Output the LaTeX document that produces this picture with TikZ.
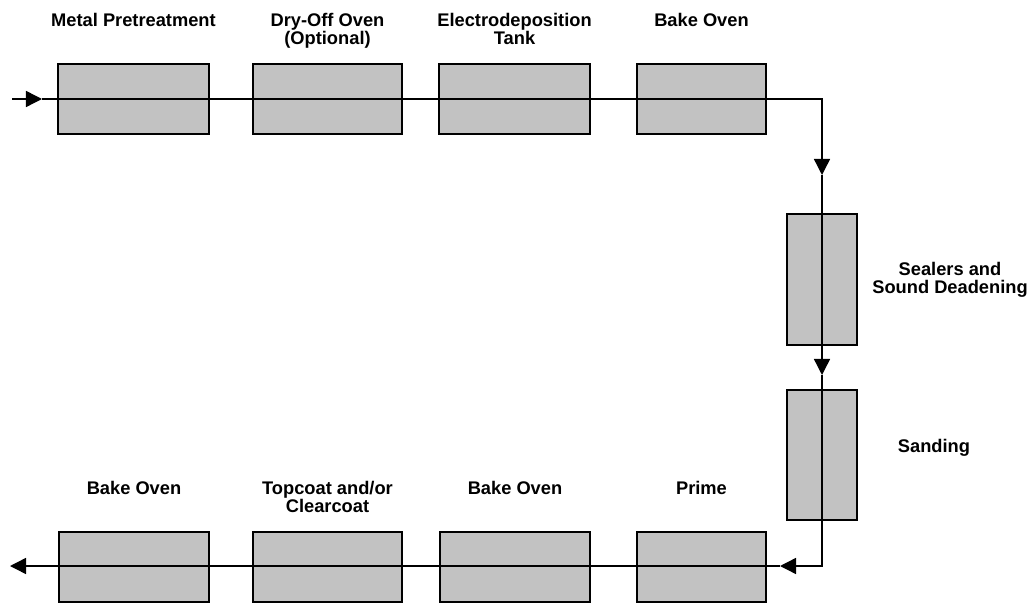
\documentclass[tikz,border=0pt]{standalone}
\usepackage{fontspec}
\setmainfont{Liberation Sans}
\usetikzlibrary{arrows.meta}

\begin{document}
\begin{tikzpicture}[
    x=0.025cm, y=-0.025cm,
    stage box/.style={rectangle, draw=black, line width=1pt, fill=black!24, minimum height=1.75cm, inner sep=0pt},
    wide box/.style={stage box, minimum width=3.775cm},
    short box/.style={stage box, minimum width=3.225cm},
    tall box/.style={stage box, minimum width=1.75cm, minimum height=3.275cm},
    stage label/.style={font=\bfseries\fontsize{13}{12.5}\selectfont, align=center, inner sep=0pt},
    flow/.style={line width=1pt, draw=black},
    flow tip/.style={flow, -{Triangle[length=4mm, width=4mm]}}
]
\useasboundingbox (0,0) rectangle (1031,603);

% upper line of stages
\node[wide box]  (pretreat) at (133.5, 99) {};
\node[wide box, minimum width=3.725cm] (dryoff) at (327.5, 99) {};
\node[wide box]  (edtank)   at (514.5, 99) {};
\node[short box] (bakeA)    at (701.5, 99) {};

% stages on the right side
\node[tall box] (sealer) at (822, 279.5) {};
\node[tall box, minimum height=3.25cm] (sanding) at (822, 455) {};

% lower line of stages
\node[short box] (prime)   at (701.5, 567) {};
\node[wide box, minimum width=3.75cm] (bakeB)   at (515, 567) {};
\node[wide box, minimum width=3.725cm] (topcoat) at (327.5, 567) {};
\node[wide box, minimum width=3.75cm] (bakeC)   at (134, 567) {};

% labels
\node[stage label, anchor=north] (lpretreat) at (133.5, 13) {Metal Pretreatment};
\node[stage label, anchor=north] (ldryoff)   at (327.5, 13) {Dry-Off Oven\\(Optional)};
\node[stage label, anchor=north] (ledtank)   at (514.5, 13) {Electrodeposition\\Tank};
\node[stage label, anchor=north] (lbakeA)    at (701.5, 13) {Bake Oven};
\node[stage label] (lsealer)  at (950, 280) {Sealers and\\Sound Deadening};
\node[stage label] (lsanding) at (934, 448) {Sanding};
\node[stage label, anchor=north] (lprime)   at (701.5, 481) {Prime};
\node[stage label, anchor=north] (lbakeB)   at (515, 481) {Bake Oven};
\node[stage label, anchor=north] (ltopcoat) at (327.5, 481) {Topcoat and/or\\Clearcoat};
\node[stage label, anchor=north] (lbakeC)   at (134, 481) {Bake Oven};

% flow of the body through the line
\coordinate (start)  at (12, 99);
\coordinate (tipIn)  at (42, 99);
\coordinate (turnA)  at (822, 99);
\coordinate (tipA)   at (822, 175);
\coordinate (tipB)   at (822, 375);
\coordinate (turnB)  at (822, 566);
\coordinate (tipC)   at (780, 566);
\coordinate (finish) at (10, 566);

\draw[flow tip] (start) -- (tipIn);
\draw[flow tip] (tipIn) -- (turnA) -- (tipA);
\draw[flow tip] (tipA) -- (tipB);
\draw[flow tip] (tipB) -- (turnB) -- (tipC);
\draw[flow tip] (tipC) -- (finish);

\end{tikzpicture}
\end{document}
